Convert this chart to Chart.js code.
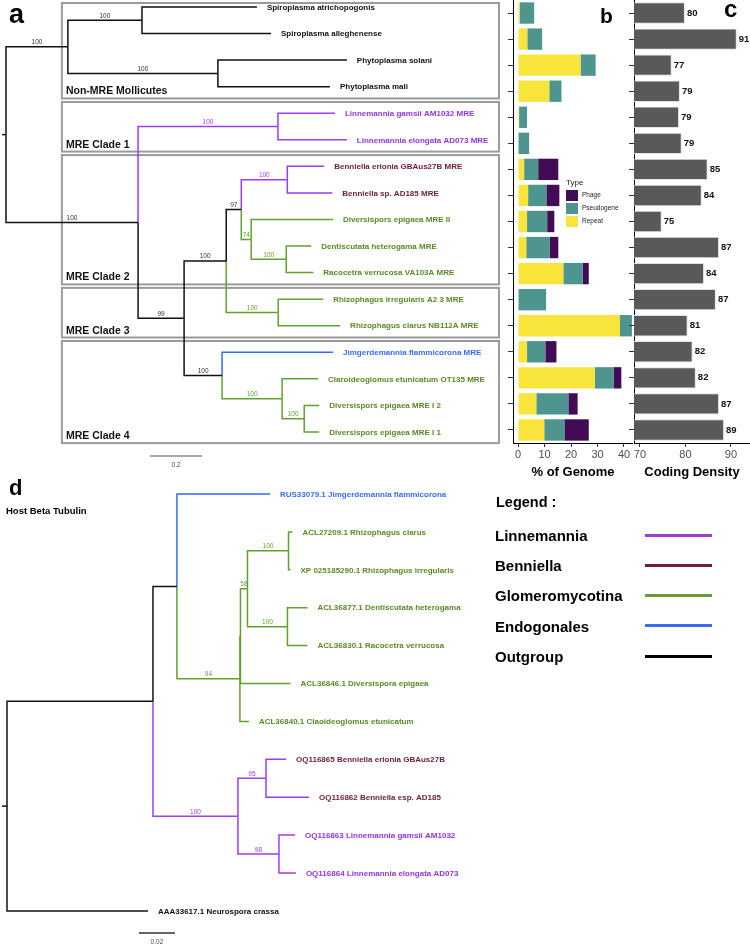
<!DOCTYPE html>
<html>
<head>
<meta charset="utf-8">
<script src="https://cdn.jsdelivr.net/npm/chart.js@4.4.1/dist/chart.umd.min.js"></script>
<style>
  html, body { margin: 0; padding: 0; background: #fff; }
  body { width: 750px; height: 947px; position: relative; overflow: hidden;
         font-family: "Liberation Sans", Arial, Helvetica, sans-serif; }
  canvas { position: absolute; }
  .txt { position: absolute; font-weight: bold; color: #000; white-space: nowrap; line-height: 1; }
  .legLine { position: absolute; height: 3px; width: 67px; left: 645px; }
</style>
</head>
<body>
<canvas id="treeA" width="512" height="470" style="left:0;top:0;width:512px;height:470px"></canvas>
<canvas id="genome" width="133" height="480" style="left:500px;top:0;width:133px;height:480px"></canvas>
<canvas id="density" width="130" height="480" style="left:620px;top:0;width:130px;height:480px"></canvas>
<canvas id="treeD" width="480" height="477" style="left:0;top:470px;width:480px;height:477px"></canvas>

<div class="txt" style="left:9px;top:1px;font-size:27px">a</div>
<div class="txt" style="left:600px;top:5px;font-size:21px">b</div>
<div class="txt" style="left:724px;top:-3px;font-size:24px">c</div>
<div class="txt" style="left:9px;top:477px;font-size:22px">d</div>
<div class="txt" style="left:6px;top:506px;font-size:9.5px">Host Beta Tubulin</div>
<div class="txt" style="left:496px;top:495px;font-size:14.5px">Legend :</div>
<div id="legend"></div>

<script>
// ---- panel a: MRE / Mollicutes tree (parent index, branch length, support) ----
const treeAParent  = [-1, 0, 1, 2, 2, 1, 5, 5, 0, 8, 9, 9, 8, 12, 13, 14, 15, 15, 14, 18, 18, 20, 20, 13, 23, 23, 12, 26, 26, 28, 28, 30, 30];
const treeALength  = [0, 0.238, 0.285, 0.442, 0.496, 0.577, 0.496, 0.431, 0.508, 0.538, 0.219, 0.265, 0.177, 0.162, 0.058, 0.177, 0.142, 0.173, 0.038, 0.315, 0.135, 0.096, 0.104, 0.200, 0.173, 0.238, 0.146, 0.427, 0.231, 0.138, 0.085, 0.058, 0.058];
const treeASupport = ['', '100', '100', '', '', '100', '', '', '100', '100', '', '', '99', '100', '97', '100', '', '', '74', '', '100', '', '', '100', '', '', '100', '', '100', '', '100', '', ''];
const treeAGroup   = ['out', 'out', 'out', 'out', 'out', 'out', 'out', 'out', 'out', 'linn', 'linn', 'linn', 'out', 'out', 'out', 'benn', 'benn', 'benn', 'glom', 'glom', 'glom', 'glom', 'glom', 'glom', 'glom', 'glom', 'out', 'endo', 'glom', 'glom', 'glom', 'glom', 'glom'];
const treeATip     = ['', '', '', 'Spiroplasma atrichopogonis', 'Spiroplasma alleghenense', '', 'Phytoplasma solani', 'Phytoplasma mali', '', '',
                      'Linnemannia gamsii AM1032 MRE', 'Linnemannia elongata AD073 MRE', '', '', '', '', 'Benniella erionia GBAus27B MRE', 'Benniella sp. AD185 MRE', '',
                      'Diversispors epigaea MRE II', '', 'Dentiscutata heterogama MRE', 'Racocetra verrucosa VA103A MRE', '', 'Rhizophagus irregularis A2 3 MRE',
                      'Rhizophagus clarus NB112A MRE', '', 'Jimgerdemannia flammicorona MRE', '', 'Claroideoglomus etunicatum OT135 MRE', '',
                      'Diversispors epigaea MRE I 2', 'Diversispors epigaea MRE I 1'];
const cladeNames = ['Non-MRE Mollicutes', 'MRE Clade 1', 'MRE Clade 2', 'MRE Clade 3', 'MRE Clade 4'];
const cladeFirst = [0, 4, 6, 11, 13];
const cladeLast  = [3, 5, 10, 12, 16];

// ---- panels b, c ----
const genomeRepeat     = [0.6, 3.5, 23.6, 11.8, 0.4, 0, 2.3, 3.8, 3.4, 3.1, 17.1, 0, 38.5, 3.4, 29.0, 6.9, 9.9];
const genomePseudogene = [5.5, 5.6, 5.7, 4.6, 3.0, 4.2, 5.3, 6.9, 7.6, 8.8, 7.3, 10.6, 4.5, 6.9, 7.2, 12.1, 7.6];
const genomePhage      = [0, 0, 0, 0, 0, 0, 7.6, 4.9, 2.7, 3.3, 2.3, 0, 0, 4.2, 2.8, 3.5, 9.2];
const codingDensity    = [79.9, 91.3, 77.0, 78.8, 78.6, 79.2, 84.9, 83.6, 74.8, 87.4, 84.1, 86.7, 80.5, 81.6, 82.3, 87.4, 88.5];
const genomeTicks  = [0, 10, 20, 30, 40];
const densityTicks = [70, 80, 90];

// ---- panel d: host beta tubulin tree ----
const treeDParent  = [-1, 0, 1, 2, 2, 4, 5, 6, 7, 7, 6, 10, 10, 5, 4, 1, 15, 16, 16, 15, 19, 19, 0];
const treeDLength  = [0, 0.0811, 0.0133, 0.0517, 0.0350, 0.0003, 0.0039, 0.0228, 0.0022, 0.0011, 0.0222, 0.0111, 0.0111, 0.0278, 0.0050, 0.0472, 0.0156, 0.0111, 0.0239, 0.0228, 0.0089, 0.0094, 0.0783];
const treeDSupport = ['', '', '', '', '94', '', '58', '100', '', '', '100', '', '', '', '', '100', '95', '', '', '98', '', '', ''];
const treeDGroup   = ['out', 'out', 'out', 'endo', 'glom', 'glom', 'glom', 'glom', 'glom', 'glom', 'glom', 'glom', 'glom', 'glom', 'glom', 'linn', 'benn', 'benn', 'benn', 'linn', 'linn', 'linn', 'out'];
const treeDTip     = ['', '', '', 'RUS33079.1 Jimgerdemannia flammicorona', '', '', '', '', 'ACL27209.1 Rhizophagus clarus', 'XP 025185290.1 Rhizophagus irregularis', '',
                      'ACL36877.1 Dentiscutata heterogama', 'ACL36830.1 Racocetra verrucosa', 'ACL36846.1 Diversispora epigaea', 'ACL36840.1 Claoideoglomus etunicatum', '', '',
                      'OQ116865 Benniella erionia GBAus27B', 'OQ116862 Benniella esp. AD185', '', 'OQ116863 Linnemannia gamsii AM1032', 'OQ116864 Linnemannia elongata AD073',
                      'AAA33617.1 Neurospora crassa'];

const legendNames  = ['Linnemannia', 'Benniella', 'Glomeromycotina', 'Endogonales', 'Outgroup'];
const legendColors = ['#9B3FD8', '#701D40', '#6B9B38', '#3A6CF4', '#000000'];

const lineColor = { out: '#111111', linn: '#9B3DFB', benn: '#9B3DFB', glom: '#62A12E', endo: '#2E6AFB' };
const textColor = { out: '#111111', linn: '#9434E0', benn: '#6B1C3C', glom: '#5A8A24', endo: '#3A6CF2' };

Chart.defaults.font.family = '"Liberation Sans", Arial, Helvetica, sans-serif';
const FONT = Chart.defaults.font.family;

// x = distance from root, y = tip order (internal node = middle of its children)
function layoutTree(parent, length) {
    const kids = parent.map(() => []);
    parent.forEach((p, i) => { if (p >= 0) kids[p].push(i); });
    const x = [], y = [];
    let tip = 0;
    (function walk(i, depth) {
        x[i] = depth;
        if (!kids[i].length) { y[i] = tip++; return; }
        kids[i].forEach(k => walk(k, depth + length[k]));
        y[i] = (y[kids[i][0]] + y[kids[i][kids[i].length - 1]]) / 2;
    })(parent.indexOf(-1), 0);
    return { x, y };
}

function branch(points, color) {
    return { data: points, showLine: true, borderColor: color, borderWidth: 1.5,
             pointRadius: 0, fill: false, tension: 0 };
}

function drawTree(id, parent, length, group, support, tips, view, extra) {
    const t = layoutTree(parent, length);
    const sets = [];
    parent.forEach((p, i) => {
        if (p < 0) {
            sets.push(branch([{ x: -view.stem, y: t.y[i] }, { x: 0, y: t.y[i] }], lineColor[group[i]]));
        } else {
            sets.push(branch([{ x: t.x[p], y: t.y[p] }, { x: t.x[p], y: t.y[i] }, { x: t.x[i], y: t.y[i] }],
                             lineColor[group[i]]));
        }
    });
    return new Chart(document.getElementById(id), {
        type: 'scatter',
        data: { datasets: sets },
        options: {
            responsive: false, animation: false, events: [],
            layout: { padding: 0 },
            scales: {
                x: { type: 'linear', display: false, min: view.xMin, max: view.xMax },
                y: { type: 'linear', display: false, min: view.yMin, max: view.yMax, reverse: true }
            },
            plugins: { legend: { display: false }, tooltip: { enabled: false } }
        },
        plugins: [{
            id: 'treeText',
            beforeDatasetsDraw(chart) { if (extra.before) extra.before(chart); },
            afterDatasetsDraw(chart) {
                const ctx = chart.ctx, xs = chart.scales.x, ys = chart.scales.y;
                ctx.save();
                ctx.font = '6.5px ' + FONT;
                ctx.textAlign = 'center';
                ctx.textBaseline = 'alphabetic';
                support.forEach((s, i) => {
                    if (!s) return;
                    const p = parent[i];
                    ctx.fillStyle = group[i] === 'out' ? '#333' : lineColor[group[i]];
                    ctx.fillText(s, (xs.getPixelForValue(t.x[p]) + xs.getPixelForValue(t.x[i])) / 2,
                                 ys.getPixelForValue(t.y[i]) - 2.5);
                });
                ctx.font = 'bold 8px ' + FONT;
                ctx.textAlign = 'left';
                ctx.textBaseline = 'middle';
                tips.forEach((name, i) => {
                    if (!name) return;
                    ctx.fillStyle = textColor[group[i]];
                    ctx.fillText(name, xs.getPixelForValue(t.x[i]) + 10, ys.getPixelForValue(t.y[i]) + 0.5);
                });
                ctx.restore();
                if (extra.after) extra.after(chart);
            }
        }]
    });
}

function scaleBar(chart, x0, len, yPx, text, color) {
    const ctx = chart.ctx, xs = chart.scales.x;
    const a = xs.getPixelForValue(x0), b = xs.getPixelForValue(x0 + len);
    ctx.save();
    ctx.strokeStyle = color;
    ctx.lineWidth = 1.5;
    ctx.beginPath(); ctx.moveTo(a, yPx); ctx.lineTo(b, yPx); ctx.stroke();
    ctx.fillStyle = '#444';
    ctx.font = '6.5px ' + FONT;
    ctx.textAlign = 'center';
    ctx.textBaseline = 'middle';
    ctx.fillText(text, (a + b) / 2, yPx + 9);
    ctx.restore();
}

// clade boxes around panel a
function cladeBoxes(chart, labels) {
    const ctx = chart.ctx, xs = chart.scales.x, ys = chart.scales.y;
    const tipPx = i => ys.getPixelForValue(i);
    const sp = tipPx(1) - tipPx(0);
    const left = xs.getPixelForValue(0.215), right = xs.getPixelForValue(1.896);
    ctx.save();
    cladeFirst.forEach((f, c) => {
        const l = cladeLast[c];
        const top = c === 0 ? 3 : (tipPx(f - 1) + tipPx(f)) / 2 + 2;
        const bottom = c === cladeFirst.length - 1 ? tipPx(l) + 0.42 * sp : (tipPx(l) + tipPx(l + 1)) / 2 - 1.5;
        if (labels) {
            ctx.font = 'bold 10.5px ' + FONT;
            ctx.fillStyle = '#111';
            ctx.textBaseline = 'alphabetic';
            ctx.fillText(cladeNames[c], left + 4, bottom - 4);
        } else {
            ctx.strokeStyle = '#9B9B9B';
            ctx.lineWidth = 2;
            ctx.strokeRect(left, top, right - left, bottom - top);
        }
    });
    ctx.restore();
}

drawTree('treeA', treeAParent, treeALength, treeAGroup, treeASupport, treeATip,
    { xMin: -6 / 260, xMax: (512 - 6) / 260, yMin: -7 / 26.56, yMax: (470 - 7) / 26.56, stem: 0.015 },
    {
        before: chart => cladeBoxes(chart, false),
        after: chart => { cladeBoxes(chart, true); scaleBar(chart, 0.554, 0.2, 456, '0.2', '#8C8C8C'); }
    });

drawTree('treeD', treeDParent, treeDLength, treeDGroup, treeDSupport, treeDTip,
    { xMin: -7 / 1800, xMax: (480 - 7) / 1800, yMin: -24 / 37.9, yMax: (477 - 24) / 37.9, stem: 0.0028 },
    { after: chart => scaleBar(chart, 0.0733, 0.02, 463, '0.02', '#333') });

// ---- b: % of genome ----
const taxa = treeATip.filter(Boolean);

const typeLegend = {
    id: 'typeLegend',
    afterDraw(chart) {
        const ctx = chart.ctx;
        ctx.save();
        ctx.fillStyle = '#222';
        ctx.font = '8px ' + FONT;
        ctx.textBaseline = 'alphabetic';
        ctx.fillText('Type', 66, 185);
        chart.data.datasets.slice().reverse().forEach((ds, k) => {
            ctx.fillStyle = ds.backgroundColor;
            ctx.fillRect(66, 190 + 13 * k, 12, 11);
            ctx.fillStyle = '#222';
            ctx.font = '6.5px ' + FONT;
            ctx.textBaseline = 'middle';
            ctx.fillText(ds.label, 82, 195.5 + 13 * k);
        });
        ctx.restore();
    }
};

function axisX(min, max, ticks, title) {
    return {
        min: min, max: max,
        afterBuildTicks: s => { s.ticks = ticks.map(v => ({ value: v })); },
        afterFit: s => { s.height = 37; },
        grid: { drawOnChartArea: false, tickLength: 4, color: '#333' },
        border: { display: true, color: '#000', width: 1 },
        ticks: { color: '#4D4D4D', font: { size: 11 }, padding: 1, maxRotation: 0, autoSkip: false },
        title: { display: true, text: title, color: '#000', font: { size: 13, weight: 'bold' }, padding: 0 }
    };
}

function axisY(width) {
    return {
        afterFit: s => { s.width = width; },
        ticks: { display: false },
        grid: { drawOnChartArea: false, offset: false, tickLength: 5, color: '#333' },
        border: { display: true, color: '#000', width: 1 }
    };
}

new Chart(document.getElementById('genome'), {
    type: 'bar',
    data: {
        labels: taxa,
        datasets: [
            { label: 'Repeat', data: genomeRepeat, backgroundColor: '#F9E43C' },
            { label: 'Pseudogene', data: genomePseudogene, backgroundColor: '#4E958F' },
            { label: 'Phage', data: genomePhage, backgroundColor: '#430A56' }
        ]
    },
    options: {
        indexAxis: 'y', responsive: false, animation: false, events: [],
        layout: { padding: 0 },
        datasets: { bar: { barPercentage: 0.82, categoryPercentage: 1, borderWidth: 0 } },
        scales: {
            x: Object.assign(axisX(-1.9, 43.4, genomeTicks, '% of Genome'), { stacked: true }),
            y: Object.assign(axisY(13), { stacked: true })
        },
        plugins: { legend: { display: false }, tooltip: { enabled: false } }
    },
    plugins: [typeLegend]
});

// ---- c: coding density ----
const densityLabels = {
    id: 'densityLabels',
    afterDatasetsDraw(chart) {
        const ctx = chart.ctx;
        ctx.save();
        ctx.font = 'bold 9.5px ' + FONT;
        ctx.fillStyle = '#111';
        ctx.textBaseline = 'middle';
        chart.getDatasetMeta(0).data.forEach((bar, i) => {
            ctx.fillText(Math.round(codingDensity[i]), bar.x + 2, bar.y);
        });
        ctx.restore();
    }
};

new Chart(document.getElementById('density'), {
    type: 'bar',
    data: {
        labels: taxa,
        datasets: [{ label: 'Coding Density', data: codingDensity, base: 68.7,
                     backgroundColor: '#595959', borderColor: '#E2E2E2', borderWidth: 1 }]
    },
    options: {
        indexAxis: 'y', responsive: false, animation: false, events: [],
        layout: { padding: 0 },
        datasets: { bar: { barPercentage: 0.82, categoryPercentage: 1 } },
        scales: {
            x: axisX(68.7, 94.2, densityTicks, 'Coding Density'),
            y: axisY(14)
        },
        plugins: { legend: { display: false }, tooltip: { enabled: false } }
    },
    plugins: [densityLabels]
});

// ---- legend for the tree colours ----
const legendBox = document.getElementById('legend');
legendNames.forEach((name, i) => {
    const mid = 535 + i * 30.3;
    const label = document.createElement('div');
    label.className = 'txt';
    label.style.cssText = 'left:495px;font-size:15px;top:' + (mid - 7.3) + 'px';
    label.textContent = name;
    const line = document.createElement('div');
    line.className = 'legLine';
    line.style.top = (mid - 1.5) + 'px';
    line.style.background = legendColors[i];
    legendBox.appendChild(label);
    legendBox.appendChild(line);
});
</script>
</body>
</html>
